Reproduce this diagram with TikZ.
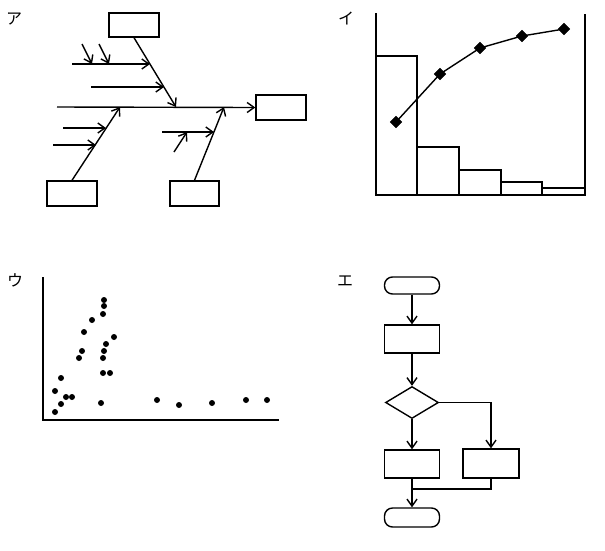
\documentclass[tikz,border=0pt]{standalone}
\usepackage{fontspec}
\newfontfamily\jp{Noto Sans CJK JP}
\usetikzlibrary{arrows.meta,shapes.geometric}
\begin{document}
\begin{tikzpicture}[x=1pt,y=-1pt,
  ln/.style={line width=1.4pt},
  arr/.style={ln,-{Straight Barb[length=7pt,width=10pt]}},
  box/.style={draw,ln,inner sep=0pt,minimum width=50pt,minimum height=25pt},
  term/.style={draw,ln,inner sep=0pt,minimum width=55pt,rounded corners=8pt},
  lab/.style={font=\jp\fontsize{16}{18}\selectfont,inner sep=0pt},
  dia/.style={fill=black,draw=black,diamond,inner sep=0pt,minimum width=12pt,minimum height=12pt},
]
\useasboundingbox (0,0) rectangle (605,550);
% ---------- ア fishbone ----------
\node[lab] (la) at (14,19) {ア};
\node[box,minimum height=24pt] (tbox) at (134,25) {};
\node[box] (rbox) at (281,107.5) {};
\node[box] (blbox) at (72,193.5) {};
\node[box,minimum width=49pt] (brbox) at (194.5,193.5) {};
\coordinate (sp0) at (57,107);
\draw[arr] (sp0) -- (rbox.west);
\coordinate (tb1) at (176,107);
\draw[arr] (tbox.south) -- (tb1);
\coordinate (a1s) at (72,64);  \coordinate (a1e) at (150,64);
\draw[arr] (a1s) -- (a1e);
\coordinate (s1s) at (82,44);  \coordinate (s1e) at (92,64);
\draw[arr] (s1s) -- (s1e);
\coordinate (s2s) at (99,44);  \coordinate (s2e) at (109,64);
\draw[arr] (s2s) -- (s2e);
\coordinate (a2s) at (91,87);  \coordinate (a2e) at (164,87);
\draw[arr] (a2s) -- (a2e);
\coordinate (bl1) at (120,107);
\draw[arr] (blbox.north) -- (bl1);
\coordinate (b1s) at (63,128); \coordinate (b1e) at (106,128);
\draw[arr] (b1s) -- (b1e);
\coordinate (b2s) at (53,145); \coordinate (b2e) at (96,145);
\draw[arr] (b2s) -- (b2e);
\coordinate (br1) at (224,107);
\draw[arr] (brbox.north) -- (br1);
\coordinate (c1s) at (162,132); \coordinate (c1e) at (214,132);
\draw[arr] (c1s) -- (c1e);
\coordinate (c2s) at (174,152); \coordinate (c2e) at (187,132);
\draw[arr] (c2s) -- (c2e);
% ---------- イ pareto ----------
\node[lab] (li) at (346,18) {イ};
\coordinate (ya) at (376,13); \coordinate (o1) at (376,195);
\coordinate (yb) at (585,14); \coordinate (o2) at (585,195);
\draw[ln] (ya) -- (o1) -- (o2) -- (yb);
\draw[ln] (376,195) rectangle (417,56);
\draw[ln] (417,195) rectangle (459,147);
\draw[ln] (459,195) rectangle (501,170);
\draw[ln] (501,195) rectangle (542,182);
\draw[ln] (542,195) rectangle (585,188);
\node[dia] (p1) at (396,122) {};
\node[dia] (p2) at (440,74) {};
\node[dia] (p3) at (480,48) {};
\node[dia] (p4) at (522,36) {};
\node[dia] (p5) at (564,29) {};
\draw[ln] (p1.center) -- (p2.center) -- (p3.center) -- (p4.center) -- (p5.center);
% ---------- ウ scatter ----------
\node[lab] (lu) at (15,280) {ウ};
\coordinate (ay) at (43,277); \coordinate (ao) at (43,420); \coordinate (ax) at (279,420);
\draw[ln] (ay) -- (ao) -- (ax);
\foreach \x/\y in {55/412,61/404,55/391,61/378,66/397,72/397,79/358,82/351,84/332,92/320,
  104/300,104/306,103/314,106/344,104/351,103/358,103/373,110/373,114/337,101/403,
  157/400,179/405,212/403,246/400,267/400}
  \fill (\x,\y) circle (3pt);
% ---------- エ flowchart ----------
\node[lab] (le) at (345,281) {エ};
\node[term,minimum height=17pt] (st) at (412,285.5) {};
\node[box,minimum width=55pt,minimum height=28pt] (b1) at (412,339) {};
\node[draw,ln,diamond,inner sep=0pt,minimum width=53pt,minimum height=32pt] (d) at (412,402.5) {};
\node[box,minimum width=55pt,minimum height=28pt] (b2) at (412,464) {};
\node[box,minimum width=56pt,minimum height=29pt] (b3) at (491,463.5) {};
\node[term,minimum height=19pt] (en) at (412,517.5) {};
\draw[arr] (st) -- (b1);
\draw[arr] (b1) -- (d);
\draw[arr] (d) -- (b2);
\draw[arr] (d.east) -| (b3.north);
\coordinate (j) at (412,489);
\draw[ln] (b3.south) |- (j);
\draw[arr] (b2) -- (en);
\end{tikzpicture}
\end{document}
